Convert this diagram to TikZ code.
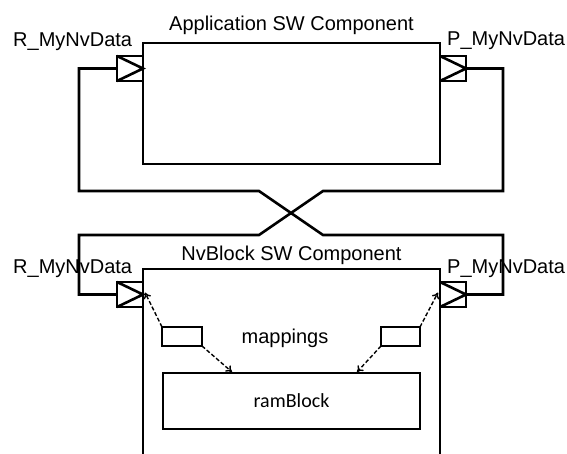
\documentclass[tikz,border=0pt]{standalone}
\usepackage{fontspec}
\setmainfont{Liberation Sans}
\newfontfamily\calib{Carlito}
\usetikzlibrary{arrows.meta}
\begin{document}
\begin{tikzpicture}[x=1pt,y=-1pt,
  box/.style={draw,line width=2.7pt,inner sep=0pt,outer sep=0pt,anchor=north west},
  wire/.style={line width=2.6pt,line join=miter},
  maparrow/.style={line width=1.4pt,dash pattern=on 4pt off 2.2pt,-{To[length=6pt,width=8pt]}},
  lbl/.style={inner sep=0pt,font=\fontsize{20}{24}\selectfont},
  lblc/.style={inner sep=0pt,font=\calib\fontsize{20}{24}\selectfont}]
\useasboundingbox (0,0) rectangle (567,453);
% texts
\node[lbl,anchor=base] (tApp) at (291.5,30) {Application SW Component};
\node[lbl,anchor=base west] (tR1) at (13,46) {R\_MyNvData};
\node[lbl,anchor=base west] (tP1) at (447,45) {P\_MyNvData};
\node[lbl,anchor=base] (tNv) at (291.5,260) {NvBlock SW Component};
\node[lbl,anchor=base west] (tR2) at (13,273) {R\_MyNvData};
\node[lbl,anchor=base west] (tP2) at (447,273) {P\_MyNvData};
\node[lbl,anchor=base] (tMap) at (285,343) {mappings};
% boxes
\node[box,minimum width=297pt,minimum height=121pt] (app) at (143,43) {};
\node[box,minimum width=297pt,minimum height=230pt] (nv) at (143,269) {};
\node[box,minimum width=26pt,minimum height=25pt] (rA) at (117,56) {};
\node[box,minimum width=26pt,minimum height=25pt] (pA) at (440,56) {};
\node[box,minimum width=26pt,minimum height=25pt] (rN) at (117,282) {};
\node[box,minimum width=26pt,minimum height=25pt] (pN) at (440,282) {};
\node[box,minimum width=40pt,minimum height=19pt] (mL) at (162,327) {};
\node[box,minimum width=39pt,minimum height=19pt] (mR) at (381,327) {};
\node[box,minimum width=257pt,minimum height=56pt] (ram) at (163,373) {};
\node[lblc] (tRam) at (ram.center) {ramBlock};
% port triangles
\foreach \p in {rA,pA,rN,pN}
  \draw[line width=2.6pt,line join=miter] (\p.north west) -- (\p.east) -- (\p.south west);
% wires
\coordinate (w1) at (79,191);
\coordinate (k1) at (259,191);
\coordinate (k2) at (323,235);
\coordinate (w2) at (503,235);
\coordinate (v1) at (503,191);
\coordinate (k3) at (323,191);
\coordinate (k4) at (259,235);
\coordinate (v2) at (79,235);
\draw[wire] (rA.west) -| (w1) -- (k1) -- (k2) -- (w2) |- (pN.east);
\draw[wire] (pA.east) -| (v1) -- (k3) -- (k4) -- (v2) |- (rN.west);
% mapping arrows
\coordinate (rl) at (232,372);
\coordinate (rr) at (357,372);
\draw[maparrow] (mL.north west) -- ([xshift=2pt,yshift=2pt]rN.east);
\draw[maparrow] (mR.north east) -- ([xshift=-2pt,yshift=2pt]pN.west);
\draw[maparrow] (mL.south east) -- (rl);
\draw[maparrow] (mR.south west) -- (rr);
\end{tikzpicture}
\end{document}
